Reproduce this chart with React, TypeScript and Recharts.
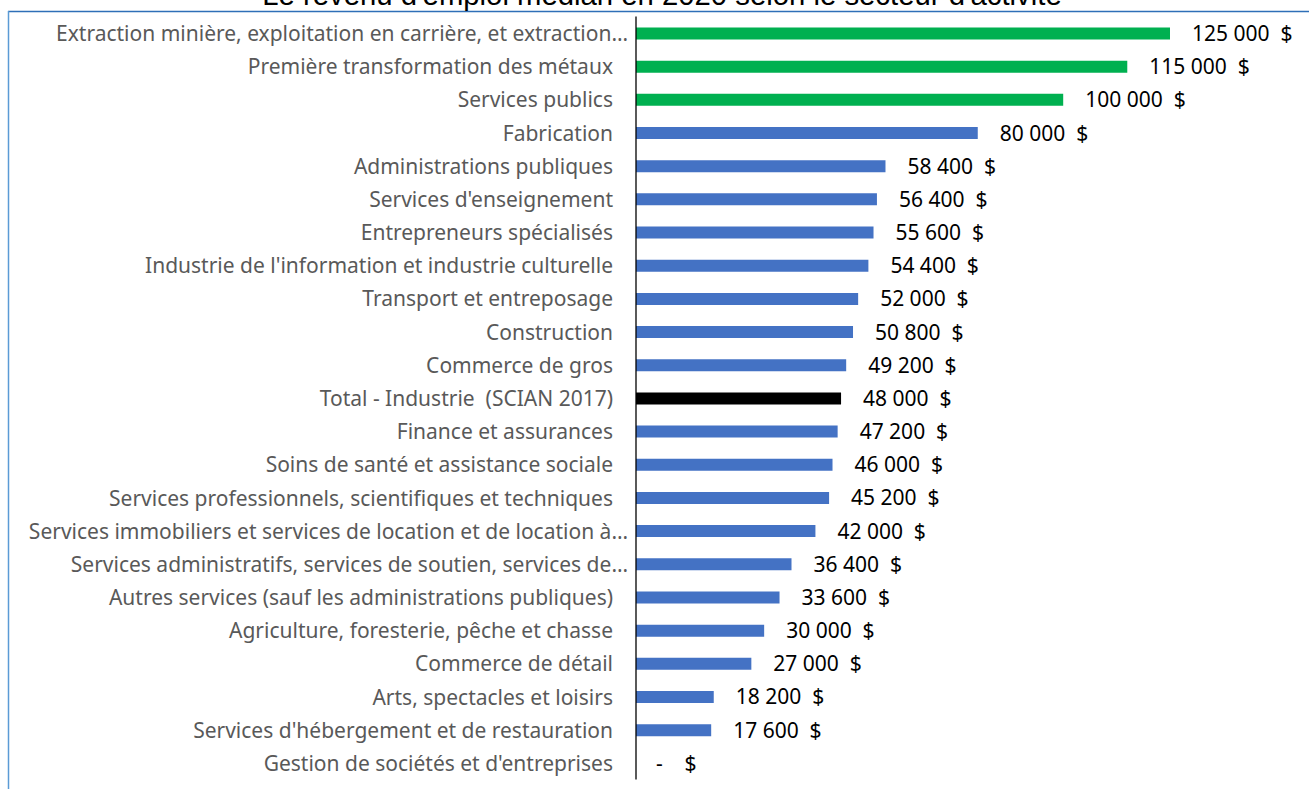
import { BarChart, Bar, XAxis, YAxis, Cell, LabelList } from 'recharts'

const title = "Le revenu d'emploi médian en 2020 selon le secteur d'activité"

const sectors = [
  'Extraction minière, exploitation en carrière, et extraction…',
  'Première transformation des métaux',
  'Services publics',
  'Fabrication',
  'Administrations publiques',
  "Services d'enseignement",
  'Entrepreneurs spécialisés',
  "Industrie de l'information et industrie culturelle",
  'Transport et entreposage',
  'Construction',
  'Commerce de gros',
  'Total - Industrie  (SCIAN 2017)',
  'Finance et assurances',
  'Soins de santé et assistance sociale',
  'Services professionnels, scientifiques et techniques',
  'Services immobiliers et services de location et de location à…',
  'Services administratifs, services de soutien, services de…',
  'Autres services (sauf les administrations publiques)',
  'Agriculture, foresterie, pêche et chasse',
  'Commerce de détail',
  'Arts, spectacles et loisirs',
  "Services d'hébergement et de restauration",
  "Gestion de sociétés et d'entreprises",
]

const incomes = [
  125000, 115000, 100000, 80000, 58400, 56400, 55600, 54400, 52000, 50800,
  49200, 48000, 47200, 46000, 45200, 42000, 36400, 33600, 30000, 27000,
  18200, 17600, 0,
]

const topSectors = 3

const data = sectors.map((name, i) => ({ name, income: incomes[i] }))

const GREEN = '#00b050'
const BLUE = '#4472c4'
const FONT = "'Noto Sans', sans-serif"

function fmt(v: number) {
  if (v === 0) return '-\u00a0\u00a0\u00a0\u00a0$'
  return String(v).replace(/\B(?=(\d{3})+(?!\d))/g, '\u00a0') + '\u00a0\u00a0$'
}

function barColor(name: string, i: number) {
  if (name.startsWith('Total')) return '#000000'
  return i < topSectors ? GREEN : BLUE
}

// truncated labels sit a little further right, as in the source
const SectorTick = ({ x, y, payload }: any) => {
  const cut = String(payload.value).endsWith('…')
  return (
    <text x={x - (cut ? 0 : 15)} y={y} textAnchor="end" dominantBaseline="central"
      fill="#595959" fontSize={21} fontFamily={FONT} style={{ whiteSpace: 'pre' }}>
      {payload.value}
    </text>
  )
}

const ValueLabel = ({ x, y, width, height, value }: any) => (
  <text x={x + width + (value === 0 ? 20 : 22)} y={y + height / 2 - 0.5} dominantBaseline="central"
    fill="#000" fontSize={21} fontFamily={FONT}>
    {fmt(Number(value))}
  </text>
)

export default function App() {
  return (
    <div style={{ position: 'absolute', left: 0, top: 0, width: 1309, height: 789, background: '#fff', overflow: 'hidden' }}>
      <svg width={1309} height={789} style={{ position: 'absolute', left: 0, top: 0 }}>
        <line x1={8} y1={11.5} x2={1309} y2={11.5} stroke="#2e6fb7" strokeWidth={1.5} />
        <line x1={8.5} y1={11} x2={8.5} y2={789} stroke="#5b9bd5" strokeWidth={1.5} />
        <text x={662} y={5} textAnchor="middle" fontSize={29.3} fontFamily="'Liberation Sans', Arial, sans-serif" fill="#000">
          {title}
        </text>
      </svg>
      <div style={{ position: 'absolute', left: 0, top: 0 }}>
        <BarChart
          width={1309}
          height={789}
          data={data}
          layout="vertical"
          margin={{ top: 16.5, right: 139, bottom: 9.5, left: 0 }}
          barCategoryGap="0%"
        >
          <XAxis type="number" domain={[0, 125000]} hide />
          <YAxis
            type="category"
            dataKey="name"
            width={636}
            tick={<SectorTick />}
            tickLine={false}
            axisLine={{ stroke: '#000', strokeWidth: 1.3 }}
            interval={0}
          />
          <Bar dataKey="income" barSize={12} minPointSize={0.01} isAnimationActive={false}>
            {data.map((d, i) => (
              <Cell key={d.name} fill={barColor(d.name, i)} />
            ))}
            <LabelList dataKey="income" content={<ValueLabel />} />
          </Bar>
        </BarChart>
      </div>
    </div>
  )
}
